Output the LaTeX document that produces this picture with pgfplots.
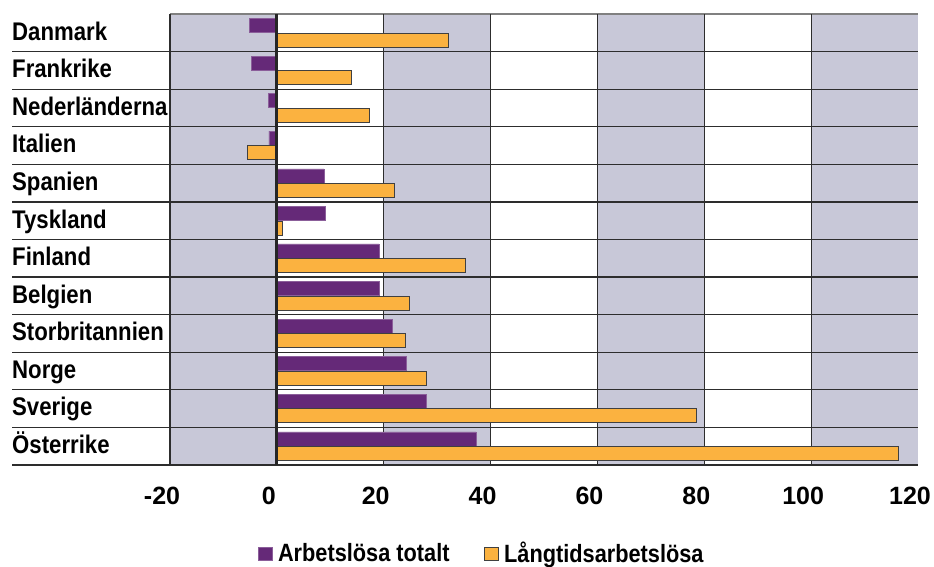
\documentclass[border=0pt]{standalone}
\usepackage{fontspec}
\setmainfont{Liberation Sans}
\newfontfamily\condfont{Liberation Sans}[FakeStretch=0.87]
\usepackage{pgfplots}
\pgfplotsset{compat=1.18}
\definecolor{barpurple}{RGB}{101,41,120}
\definecolor{barorange}{RGB}{251,178,64}
\definecolor{bandgray}{RGB}{200,200,216}
\definecolor{gridline}{RGB}{45,45,45}
\pgfplotsset{sqlegend/.style={legend image code/.code={\draw[##1] (0pt,-7.5pt) rectangle (14pt,5.5pt); \path[draw=none, fill=none] (0pt,0pt) rectangle (18pt,0.1pt);}}}

\begin{document}
\begin{tikzpicture}
\begin{axis}[
  name=ax,
  scale only axis,
  width=748pt, height=451pt,
  xmin=-20, xmax=120, ymin=-0.5, ymax=11.5,
  xbar, bar width=14pt,
  clip=false,
  axis line style={draw=none},
  major tick length=0pt,
  xtick={-20,0,20,40,60,80,100,120},
  xticklabels={-20,0,20,40,60,80,100,120},
  xticklabel style={font=\fontsize{25}{25}\selectfont\bfseries, yshift=-19pt, xshift=-8pt},
  ytick={0,1,2,3,4,5,6,7,8,9,10,11},
  yticklabels={Österrike,Sverige,Norge,Storbritannien,Belgien,Finland,Tyskland,Spanien,Italien,Nederländerna,Frankrike,Danmark},
  yticklabel style={font=\condfont\fontsize{25.5}{25.5}\selectfont\bfseries, anchor=base west, xshift=-158pt, yshift=-7.3pt, inner xsep=0pt},
  legend style={at={(0.113,-0.195)}, anchor=west, draw=none, fill=none,
    font=\condfont\fontsize{25}{25}\selectfont\bfseries,
    /tikz/every even column/.append style={column sep=32pt}},
  legend columns=2,
]
% background bands
\fill[bandgray] (axis cs:-20,-0.5) rectangle (axis cs:0,11.5);
\fill[bandgray] (axis cs:20,-0.5) rectangle (axis cs:40,11.5);
\fill[bandgray] (axis cs:60,-0.5) rectangle (axis cs:80,11.5);
\fill[bandgray] (axis cs:100,-0.5) rectangle (axis cs:120,11.5);
% grid
\pgfplotsinvokeforeach{-0.5,0.5,1.5,2.5,3.5,4.5,5.5,6.5,7.5,8.5,9.5,10.5}{
  \draw[gridline, line width=1.3pt] (axis cs:-49.5,#1) -- (axis cs:120,#1);
}
\draw[gray, line width=1.3pt] (axis cs:-20,11.5) -- (axis cs:120,11.5);
\pgfplotsinvokeforeach{-20,20,40,60,80,100}{
  \draw[gridline, line width=1.2pt] (axis cs:#1,-0.5) -- (axis cs:#1,11.5);
}

\addplot[fill=barpurple, draw=barpurple!75!white, line width=0.6pt, bar shift=7.3pt, sqlegend]
  coordinates {
  (-5.2,11) (-4.7,10) (-1.6,9) (-1.5,8) (8.8,7) (9.0,6)
  (19.1,5) (19.2,4) (21.6,3) (24.2,2) (27.9,1) (37.3,0)
};
\addlegendentry{Arbetslösa totalt}

\addplot[fill=barorange, draw=black!75, line width=1pt, bar shift=-7.3pt, sqlegend]
  coordinates {
  (32.2,11) (14.0,10) (17.3,9) (-5.5,8) (22.1,7) (1.1,6)
  (35.4,5) (24.8,4) (24.0,3) (28.0,2) (78.5,1) (116.4,0)
};
\addlegendentry{Långtidsarbetslösa}

\draw[black!85, line width=3pt] (axis cs:0,-0.5) -- (axis cs:0,11.5);
\end{axis}
\pgfresetboundingbox
\path[use as bounding box] ([xshift=-170pt,yshift=-102pt]ax.south west) rectangle ([xshift=16pt,yshift=14pt]ax.north east);
\end{tikzpicture}
\end{document}
